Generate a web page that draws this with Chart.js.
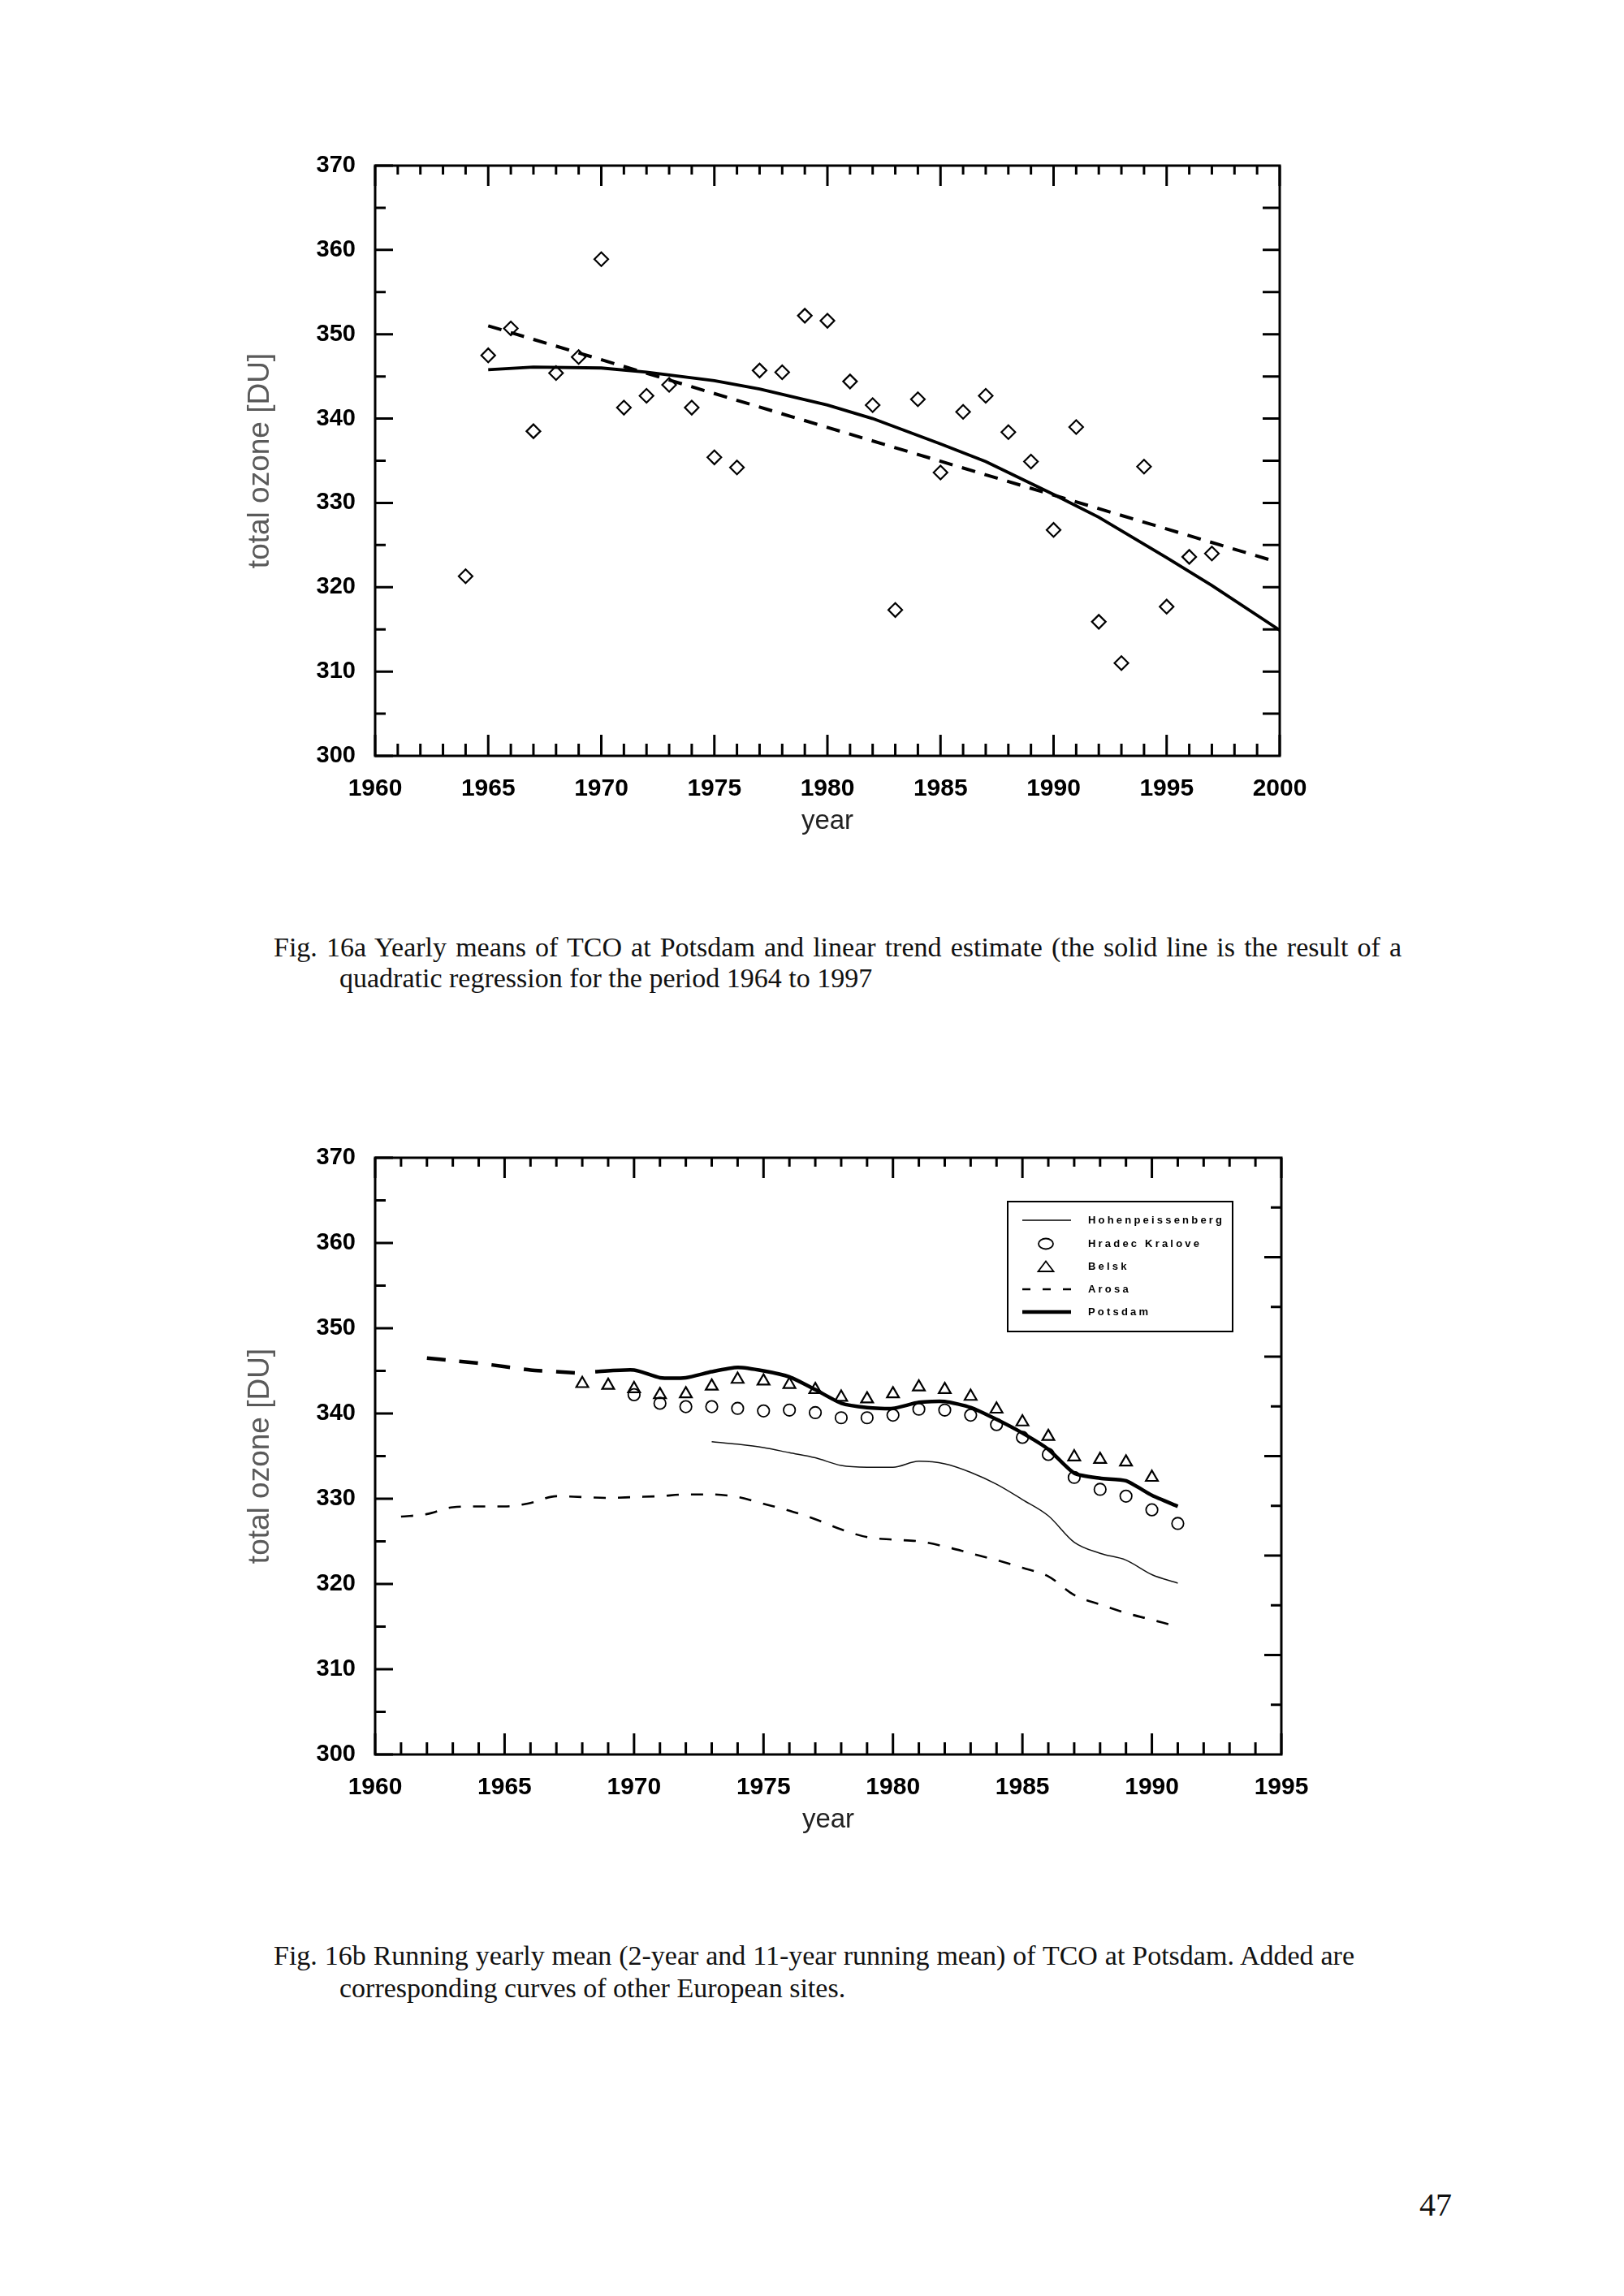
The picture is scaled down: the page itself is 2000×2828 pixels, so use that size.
<!DOCTYPE html>
<html>
<head>
<meta charset="utf-8">
<title>Fig. 16 total ozone Potsdam</title>
<script src="https://cdn.jsdelivr.net/npm/chart.js@4.4.1/dist/chart.umd.min.js"></script>
<style>
  html, body { margin: 0; padding: 0; background: #fff; }
  #page { position: relative; width: 2000px; height: 2828px; overflow: hidden; background: #fff; }
  canvas { position: absolute; left: 0; }
  .cap {
    position: absolute;
    font-family: "Liberation Serif", "Times New Roman", serif;
    font-size: 34px;
    line-height: 38px;
    color: #111;
    white-space: nowrap;
  }
  .just { text-align: justify; text-align-last: justify; white-space: normal; }
  .pageno { position: absolute; left: 1748px; top: 2692px; font-family: "Liberation Serif", serif; font-size: 40px; color: #111; }
</style>
</head>
<body>
<div id="page">
  <canvas id="fig16a" width="2000" height="900" style="top:150px"></canvas>
  <div class="cap just" style="left:337px; top:1148px; width:1389px;">Fig. 16a Yearly means of TCO at Potsdam and linear trend estimate (the solid line is the result of a</div>
  <div class="cap" style="left:418px; top:1186px;">quadratic regression for the period 1964 to 1997</div>

  <canvas id="fig16b" width="2000" height="900" style="top:1380px"></canvas>
  <div class="cap just" style="left:337px; top:2390px; width:1331px;">Fig. 16b Running yearly mean (2-year and 11-year running mean) of TCO at Potsdam. Added are</div>
  <div class="cap" style="left:418px; top:2430px;">corresponding curves of other European sites.</div>

  <div class="pageno">47</div>
</div>

<script>
// ---- Fig. 16a: yearly means at Potsdam ----
const yearsA = [1964, 1965, 1966, 1967, 1968, 1969, 1970, 1971, 1972, 1973, 1974, 1975,
  1976, 1977, 1978, 1979, 1980, 1981, 1982, 1983, 1984, 1985, 1986, 1987, 1988, 1989,
  1990, 1991, 1992, 1993, 1994, 1995, 1996, 1997];
const meansA = [321.3, 347.5, 350.7, 338.5, 345.4, 347.3, 358.9, 341.3, 342.7, 344.0, 341.3, 335.4,
  334.2, 345.7, 345.5, 352.2, 351.6, 344.4, 341.6, 317.3, 342.3, 333.6, 340.8, 342.7, 338.4, 334.9,
  326.8, 339.0, 315.9, 311.0, 334.3, 317.7, 323.6, 324.0];

// quadratic regression curve
const quadYears = [1965, 1967, 1970, 1972, 1975, 1977, 1980, 1982, 1985, 1987, 1990, 1992, 1995, 1997, 2000];
const quadVals = [345.8, 346.1, 346.0, 345.5, 344.5, 343.5, 341.6, 340.0, 337.0, 334.9, 331.0, 328.3, 323.5, 320.2, 314.9];

// linear trend
const trendYears = [1965, 1999.5];
const trendVals = [351.0, 323.3];

// ---- Fig. 16b: running means ----
const hohenYears = [1973, 1974, 1975, 1976, 1977, 1978, 1979, 1980, 1981, 1982, 1983, 1984, 1985,
  1986, 1987, 1988, 1989, 1990, 1991];
const hohenVals = [336.7, 336.4, 336.0, 335.4, 334.8, 333.9, 333.7, 333.7, 334.4, 334.1, 333.1, 331.7, 329.9,
  328.0, 324.9, 323.6, 322.8, 321.1, 320.1];

const hradecYears = [1970, 1971, 1972, 1973, 1974, 1975, 1976, 1977, 1978, 1979, 1980, 1981, 1982,
  1983, 1984, 1985, 1986, 1987, 1988, 1989, 1990, 1991];
const hradecVals = [342.2, 341.2, 340.8, 340.8, 340.6, 340.3, 340.4, 340.1, 339.5, 339.5, 339.8, 340.5, 340.4,
  339.8, 338.7, 337.2, 335.2, 332.5, 331.1, 330.3, 328.7, 327.1];

const belskYears = [1968, 1969, 1970, 1971, 1972, 1973, 1974, 1975, 1976, 1977, 1978, 1979, 1980,
  1981, 1982, 1983, 1984, 1985, 1986, 1987, 1988, 1989, 1990];
const belskVals = [343.5, 343.3, 342.9, 342.2, 342.3, 343.2, 344.0, 343.8, 343.4, 342.8, 341.9, 341.7, 342.3,
  343.1, 342.8, 342.0, 340.5, 339.0, 337.3, 334.9, 334.6, 334.3, 332.5];

const arosaYears = [1961, 1962, 1963, 1964, 1965, 1966, 1967, 1968, 1969, 1970, 1971, 1972, 1973,
  1974, 1975, 1976, 1977, 1978, 1979, 1980, 1981, 1982, 1983, 1984, 1985, 1986, 1987, 1988, 1989, 1990, 1991];
const arosaVals = [327.9, 328.2, 329.0, 329.1, 329.1, 329.5, 330.3, 330.2, 330.1, 330.2, 330.3, 330.5, 330.5,
  330.2, 329.4, 328.6, 327.6, 326.4, 325.5, 325.2, 325.0, 324.4, 323.6, 322.8, 321.9, 320.9, 318.7, 317.6, 316.6, 315.8, 315.0];

const potsdamYears = [1968.5, 1970, 1971, 1972, 1973, 1974, 1975, 1976, 1977, 1978, 1979, 1980, 1981,
  1982, 1983, 1984, 1985, 1986, 1987, 1988, 1989, 1990, 1991];
const potsdamVals = [344.9, 345.1, 344.2, 344.2, 344.9, 345.4, 345.0, 344.3, 342.8, 341.2, 340.7, 340.6, 341.3,
  341.4, 340.7, 339.3, 337.7, 335.8, 333.0, 332.4, 332.1, 330.4, 329.1];

// early Potsdam part, heavy dashes
const potsdamEarlyYears = [1962, 1963, 1964, 1965, 1966, 1967, 1968];
const potsdamEarlyVals = [346.5, 346.2, 345.9, 345.5, 345.1, 344.9, 344.7];

const yTicks = [300, 310, 320, 330, 340, 350, 360, 370];

const toXY = (xs, ys) => xs.map((x, i) => ({ x: x, y: ys[i] }));

Chart.defaults.font.family = '"Liberation Sans", Arial, sans-serif';
Chart.defaults.color = '#000';

// frame + inward ticks on all four sides
const frameTicks = {
  id: 'frameTicks',
  afterDatasetsDraw(chart, args, o) {
    const { ctx, chartArea: a, scales: { x, y } } = chart;
    ctx.save();
    ctx.strokeStyle = '#000';
    ctx.lineWidth = 3;
    ctx.beginPath();
    for (let yr = x.min; yr <= x.max; yr++) {
      const px = x.getPixelForValue(yr);
      const major = yr % 5 === 0;
      ctx.moveTo(px, a.top);
      ctx.lineTo(px, a.top + (major ? 25 : 11));
      ctx.moveTo(px, a.bottom);
      ctx.lineTo(px, a.bottom - (major ? 26 : 15));
    }
    for (let v = y.min; v <= y.max; v += 5) {
      const py = y.getPixelForValue(v);
      ctx.moveTo(a.left, py);
      ctx.lineTo(a.left + (v % 10 === 0 ? 22 : 13), py);
    }
    for (let i = 1; i < o.rightSteps; i++) {
      const py = y.getPixelForValue(y.min + (y.max - y.min) * i / o.rightSteps);
      const long = o.rightAlt ? i % 2 === 0 : true;
      ctx.moveTo(a.right, py);
      ctx.lineTo(a.right - (long ? 21 : 13), py);
    }
    ctx.stroke();
    ctx.strokeRect(a.left, a.top, a.width, a.height);
    ctx.restore();
  }
};

// boxed legend inside the plot (fig. 16b)
const boxLegend = {
  id: 'boxLegend',
  afterDraw(chart, args, o) {
    if (!o.show) return;
    const { ctx, chartArea: a } = chart;
    const bx = a.right - 337, by = a.top + 54, bw = 277, bh = 160;
    const rows = [23, 52, 80, 108, 136];
    ctx.save();
    ctx.strokeStyle = '#000';
    ctx.lineWidth = 2;
    ctx.strokeRect(bx, by, bw, bh);
    const items = chart.data.datasets.filter(d => d.inLegend !== false);
    items.forEach((d, i) => {
      const cy = by + rows[i];
      const cx = bx + 47;
      ctx.setLineDash([]);
      ctx.beginPath();
      if (d.showLine === false) {
        ctx.lineWidth = 1.8;
        if (d.pointStyle === 'circle') {
          ctx.ellipse(cx, cy, 9, 6.5, 0, 0, Math.PI * 2);
        } else {
          ctx.moveTo(cx, cy - 6.5);
          ctx.lineTo(cx + 9.5, cy + 6);
          ctx.lineTo(cx - 9.5, cy + 6);
          ctx.closePath();
        }
      } else {
        ctx.lineWidth = d.borderWidth;
        if (d.borderDash) ctx.setLineDash([10, 15]);
        ctx.moveTo(bx + 18, cy);
        ctx.lineTo(bx + 78, cy);
      }
      ctx.stroke();
      ctx.setLineDash([]);
      ctx.fillStyle = '#000';
      ctx.font = 'bold 13px "Liberation Sans"';
      ctx.letterSpacing = '3.2px';
      ctx.textBaseline = 'middle';
      ctx.textAlign = 'left';
      ctx.fillText(d.label, bx + 99, cy);
    });
    ctx.restore();
  }
};

function makeChart(id, datasets, xMax, padTop, rightSteps, rightAlt, legend) {
  return new Chart(document.getElementById(id), {
    type: 'scatter',
    data: { datasets: datasets },
    options: {
      responsive: false,
      devicePixelRatio: 1,
      animation: false,
      events: [],
      layout: { padding: { top: padTop, right: 2000 - (xMax === 2000 ? 1576 : 1578), left: 0, bottom: 0 } },
      scales: {
        x: {
          type: 'linear',
          min: 1960,
          max: xMax,
          grid: { display: false, drawTicks: false },
          border: { display: false },
          afterFit: s => { s.height = 119; },
          ticks: {
            stepSize: 5,
            autoSkip: false,
            maxRotation: 0,
            padding: 23,
            color: '#000',
            font: { size: 30, weight: 'bold' },
            callback: v => String(v)
          },
          title: {
            display: true,
            text: 'year',
            color: '#222',
            font: { size: 33 },
            padding: { top: 0, bottom: 18 }
          }
        },
        y: {
          type: 'linear',
          min: 300,
          max: 370,
          grid: { display: false, drawTicks: false },
          border: { display: false },
          afterFit: s => { s.width = 462; },
          afterBuildTicks: s => { s.ticks = yTicks.map(v => ({ value: v })); },
          ticks: {
            padding: 24,
            color: '#000',
            font: { size: 29, weight: 'bold' },
            callback: v => String(v)
          },
          title: {
            display: true,
            text: 'total ozone [DU]',
            color: '#5a5a5a',
            font: { size: 37 },
            padding: { top: 299, bottom: 0 }
          }
        }
      },
      plugins: {
        legend: { display: false },
        tooltip: { enabled: false },
        frameTicks: { rightSteps: rightSteps, rightAlt: rightAlt },
        boxLegend: { show: legend }
      }
    },
    plugins: [frameTicks, boxLegend]
  });
}

makeChart('fig16a', [
  {
    label: 'yearly mean',
    data: toXY(yearsA, meansA),
    showLine: false,
    pointStyle: 'rectRot',
    pointRadius: 8.5,
    pointBorderWidth: 2.2,
    pointBorderColor: '#000',
    pointBackgroundColor: 'rgba(0,0,0,0)'
  },
  {
    label: 'quadratic regression',
    data: toXY(quadYears, quadVals),
    showLine: true,
    borderColor: '#000',
    borderWidth: 3.8,
    pointRadius: 0,
    tension: 0
  },
  {
    label: 'linear trend',
    data: toXY(trendYears, trendVals),
    showLine: true,
    borderColor: '#000',
    borderWidth: 4,
    borderDash: [17, 12],
    pointRadius: 0
  }
], 2000, 54, 14, false, false);

makeChart('fig16b', [
  {
    label: 'Hohenpeissenberg',
    data: toXY(hohenYears, hohenVals),
    showLine: true,
    borderColor: '#111',
    borderWidth: 1.5,
    pointRadius: 0,
    cubicInterpolationMode: 'monotone'
  },
  {
    label: 'Hradec Kralove',
    data: toXY(hradecYears, hradecVals),
    showLine: false,
    pointStyle: 'circle',
    pointRadius: 7.2,
    pointBorderWidth: 1.8,
    pointBorderColor: '#000',
    pointBackgroundColor: 'rgba(0,0,0,0)'
  },
  {
    label: 'Belsk',
    data: toXY(belskYears, belskVals),
    showLine: false,
    pointStyle: 'triangle',
    pointRadius: 8.5,
    pointBorderWidth: 2.2,
    pointBorderColor: '#000',
    pointBackgroundColor: 'rgba(0,0,0,0)'
  },
  {
    label: 'Arosa',
    data: toXY(arosaYears, arosaVals),
    showLine: true,
    borderColor: '#000',
    borderWidth: 2.6,
    borderDash: [15, 15],
    pointRadius: 0,
    cubicInterpolationMode: 'monotone'
  },
  {
    label: 'Potsdam',
    data: toXY(potsdamYears, potsdamVals),
    showLine: true,
    borderColor: '#000',
    borderWidth: 4.5,
    pointRadius: 0,
    tension: 0.2
  },
  {
    label: 'Potsdam (early)',
    inLegend: false,
    data: toXY(potsdamEarlyYears, potsdamEarlyVals),
    showLine: true,
    borderColor: '#000',
    borderWidth: 4.5,
    borderDash: [23, 17],
    pointRadius: 0,
    tension: 0.2
  }
], 1995, 46, 12, true, true);
</script>
</body>
</html>
